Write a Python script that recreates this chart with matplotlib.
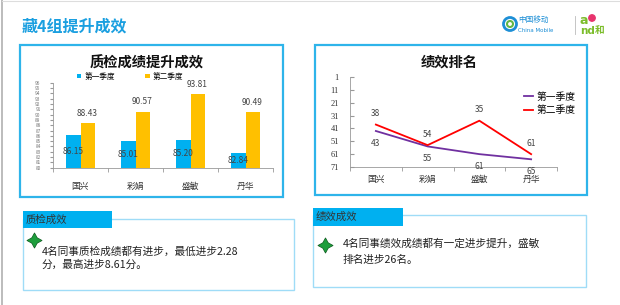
import numpy as np
import matplotlib
matplotlib.use("Agg")
import matplotlib.pyplot as plt
from matplotlib.patches import Rectangle, Circle

plt.rcParams['font.family'] = ['Noto Sans CJK SC', 'DejaVu Sans']

names = ['国兴', '彩娟', '盛敏', '丹华']
score_q1 = [86.15, 85.01, 85.20, 82.84]   # 质检成绩 第一季度
score_q2 = [88.43, 90.57, 93.81, 90.49]   # 质检成绩 第二季度
rank_q1 = [43, 55, 61, 65]                # 绩效排名 第一季度
rank_q2 = [38, 54, 35, 61]                # 绩效排名 第二季度
series_names = ['第一季度', '第二季度']

W, H = 620, 305
BLUE = '#00b0f0'
ORANGE = '#ffc000'
BORDER = '#2eb4ea'
TXT = '#333333'

fig = plt.figure(figsize=(W / 100, H / 100), dpi=100)

# background layer in pixel coordinates
bg = fig.add_axes([0, 0, 1, 1])
bg.set_xlim(0, W)
bg.set_ylim(H, 0)
bg.axis('off')

bg.plot([2, 2], [0, H], color='#b0b0b0', lw=1.2)
bg.plot([2, W], [1, 1], color='#dddddd', lw=0.8)

bg.text(22, 26, '藏4组提升成效', color='#1a9fe0', fontsize=11.5,
        fontweight='bold', va='center', ha='left')

# logo
bg.add_patch(Circle((510, 24), 6.5, fill=False, ec='#1d8fd6', lw=2.0))
bg.add_patch(Circle((510, 24), 3.0, fill=False, ec='#62b646', lw=1.5))
bg.text(518, 20, '中国移动', color='#1d8fd6', fontsize=5.5, va='center')
bg.text(518, 30, 'China Mobile', color='#1d8fd6', fontsize=4, va='center',
        family='DejaVu Sans')
bg.plot([575, 575], [16, 34], color='#bbbbbb', lw=0.6)
bg.text(580, 21, 'a', color='#7cbd2b', fontsize=9, fontweight='bold',
        va='center', family='DejaVu Sans')
bg.add_patch(Circle((592, 18), 3.2, color='#e8336d'))
bg.text(580, 31, 'nd', color='#7cbd2b', fontsize=7.5, fontweight='bold',
        va='center', family='DejaVu Sans')
bg.text(595, 30, '和', color='#7cbd2b', fontsize=7, fontweight='bold',
        va='center')

# chart frames
bg.add_patch(Rectangle((20, 45), 263, 152, fill=True, fc='white',
                       ec=BORDER, lw=1.6))
bg.add_patch(Rectangle((315, 45), 272, 150, fill=True, fc='white',
                       ec=BORDER, lw=1.6))
bg.text(147, 63, '质检成绩提升成效', fontsize=10.3, fontweight='bold',
        ha='center', va='center', color='#111111')
bg.text(449, 63, '绩效排名', fontsize=10.3, fontweight='bold',
        ha='center', va='center', color='#111111')

# bottom text boxes
bg.add_patch(Rectangle((23, 219), 271, 71, fill=False, ec='#9fdcf7', lw=1.0))
bg.add_patch(Rectangle((23, 211), 89, 17, color=BLUE, lw=0))
bg.text(26, 219.5, '质检成效', fontsize=7.5, va='center', color=TXT)
bg.plot([34], [240], marker=(4, 1, 0), ms=11, color='#1e9e3c',
        mec='#0b5a1e', mew=0.5)
bg.text(42, 252, '4名同事质检成绩都有进步，最低进步2.28', fontsize=7.7,
        va='center', color='#222222')
bg.text(42, 265, '分，最高进步8.61分。', fontsize=7.7, va='center',
        color='#222222')

bg.add_patch(Rectangle((313, 215), 273, 72, fill=False, ec='#9fdcf7', lw=1.0))
bg.add_patch(Rectangle((313, 208), 90, 18, color=BLUE, lw=0))
bg.text(316, 217, '绩效成效', fontsize=7.5, va='center', color=TXT)
bg.plot([325], [245], marker=(4, 1, 0), ms=11, color='#1e9e3c',
        mec='#0b5a1e', mew=0.5)
bg.text(343, 244, '4名同事绩效成绩都有一定进步提升，盛敏', fontsize=7.7,
        va='center', color='#222222')
bg.text(343, 260, '排名进步26名。', fontsize=7.7, va='center',
        color='#222222')

# bar chart
ax1 = fig.add_axes([53 / W, 1 - 167.7 / H, 220 / W, 85 / H])
x = np.arange(len(names))
bw = 0.255
ax1.bar(x - bw / 2, score_q1, bw, color=BLUE, label=series_names[0])
ax1.bar(x + bw / 2, score_q2, bw, color=ORANGE, label=series_names[1])
ax1.set_ylim(80, 96)
ax1.set_xlim(-0.5, len(names) - 0.5)
ax1.set_yticks(np.arange(80, 96.5, 1))
ax1.set_yticklabels([str(v) for v in range(80, 97)], fontsize=3.4,
                    color='#777777')
ax1.set_xticks(x)
ax1.set_xticklabels(names, fontsize=6.3, color=TXT)
ax1.set_xticks(np.arange(-0.5, len(names)), minor=True)
ax1.tick_params(axis='x', which='major', length=0, pad=10)
ax1.tick_params(axis='x', which='minor', length=3, color='#999999')
ax1.tick_params(axis='y', length=2, color='#999999', pad=7)
for s in ['top', 'right']:
    ax1.spines[s].set_visible(False)
for s in ['left', 'bottom']:
    ax1.spines[s].set_color('#999999')
    ax1.spines[s].set_linewidth(0.6)
for xi, v in zip(x, score_q1):
    ax1.text(xi - bw / 2, (80 + v) / 2, f'{v:.2f}', ha='center',
             va='center', fontsize=6, color='#444444')
for xi, v in zip(x, score_q2):
    ax1.text(xi + bw / 2, v + 1.0, f'{v:.2f}', ha='center',
             va='bottom', fontsize=6, color='#444444')
ax1.legend(loc='center', bbox_to_anchor=(0.35, 1.07), ncol=2, frameon=False,
           fontsize=5.5, handlelength=0.6, handleheight=0.6,
           columnspacing=4, handletextpad=0.4, borderaxespad=0)

# line chart
ax2 = fig.add_axes([350 / W, 1 - 167 / H, 207 / W, 90 / H])
ax2.plot(x, rank_q1, color='#7030a0', lw=1.3, label=series_names[0])
ax2.plot(x, rank_q2, color='#ff0000', lw=1.3, label=series_names[1])
ax2.set_ylim(71, 1)
ax2.set_yticks(np.arange(1, 72, 10))
ax2.set_yticklabels([str(v) for v in range(1, 72, 10)], fontsize=6,
                    color=TXT, family='Liberation Serif')
ax2.set_xlim(-0.5, len(names) - 0.5)
ax2.set_xticks(x)
ax2.set_xticklabels(names, fontsize=6.3, color=TXT)
ax2.set_xticks(np.arange(-0.5, len(names)), minor=True)
ax2.tick_params(axis='x', which='major', length=0, pad=6)
ax2.tick_params(axis='x', which='minor', length=3, color='#999999')
ax2.tick_params(axis='y', length=3, direction='in', color='#999999', pad=8)
for s in ['top', 'right']:
    ax2.spines[s].set_visible(False)
for s in ['left', 'bottom']:
    ax2.spines[s].set_color('#999999')
    ax2.spines[s].set_linewidth(0.6)
for xi, v in zip(x, rank_q1):
    ax2.annotate(str(v), (xi, v), xytext=(0, -9), textcoords='offset points',
                 ha='center', va='center', fontsize=6, color='#444444')
for xi, v in zip(x, rank_q2):
    ax2.annotate(str(v), (xi, v), xytext=(0, 8), textcoords='offset points',
                 ha='center', va='center', fontsize=6, color='#444444')
ax2.legend(loc='upper left', bbox_to_anchor=(0.82, 0.88), frameon=False,
           fontsize=7, handlelength=1.0, handletextpad=0.3,
           labelspacing=0.35, borderaxespad=0)

fig.savefig('out.png', dpi=100)
